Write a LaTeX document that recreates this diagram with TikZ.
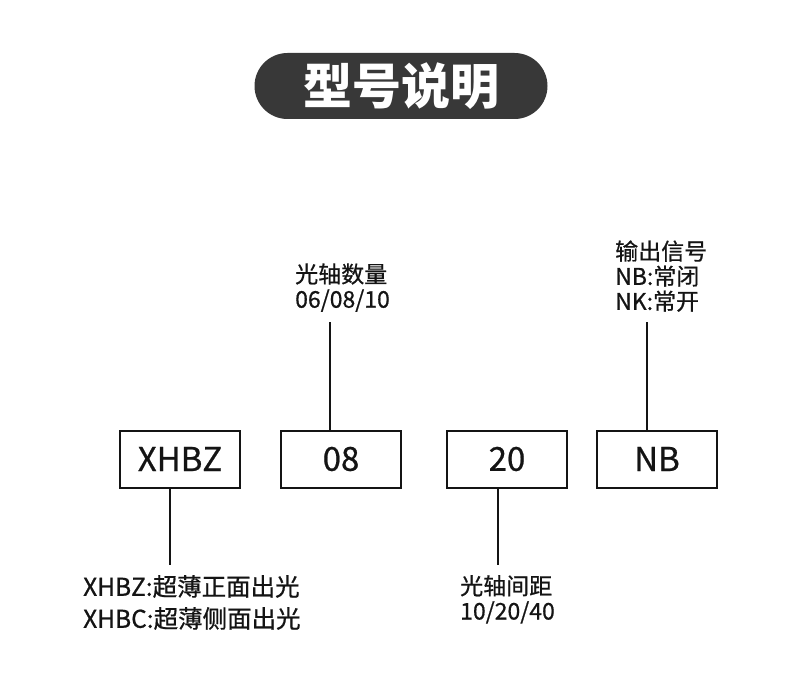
\documentclass[tikz,border=0pt]{standalone}
\usepackage{fontspec}
\setmainfont{Noto Sans CJK SC}
\newfontfamily\medfont[FakeBold=0.7]{Noto Sans CJK SC}
\usepackage{xcolor}
\usepackage{tikz}
\usetikzlibrary{positioning}
\definecolor{PillGray}{RGB}{56,56,56}
\definecolor{InkBlack}{RGB}{20,20,20}

\begin{document}
\begin{tikzpicture}[x=1pt,y=1pt,
        pill/.style={fill=PillGray,rounded corners=33pt,minimum width=293pt,minimum height=66pt,
                     text=white,font=\fontsize{49pt}{52pt}\selectfont\bfseries,inner sep=0pt},
        codebox/.style={draw=InkBlack,line width=2pt,minimum width=120pt,minimum height=57pt,
                        inner sep=0pt,text=InkBlack,font=\medfont\fontsize{33pt}{36pt}\selectfont},
        lbl/.style={inner xsep=0pt,inner ysep=10pt,align=left,text=InkBlack,
                    font=\medfont\fontsize{23pt}{25pt}\selectfont},
        lnk/.style={draw=InkBlack,line width=2pt}
      ]
        \useasboundingbox (0,0) rectangle (800,-682);
        \node[pill] (head) at (401,-86) {型号说明};
        \node[codebox] (type) at (180,-459) {XHBZ};
        \node[codebox] (qty) at (341,-459) {08};
        \node[codebox] (pitch) at (507,-459) {20};
        \node[codebox] (sig) at (657,-459) {NB};
        \node[lbl,anchor=south west] (lblqty) at (295,-322) {光轴数量\\06/08/10};
        \node[lbl,anchor=south west] (lblsig) at (615,-322) {输出信号\\NB:常闭\\NK:常开};
        \node[lbl,anchor=north west] (lblpitch) at (460,-565) {光轴间距\\10/20/40};
        \node[lbl,anchor=north west,font=\medfont\fontsize{24.5pt}{32pt}\selectfont] (lbltype) at (83,-565)
             {XHBZ:超薄正面出光\\XHBC:超薄侧面出光};
        \draw[lnk] ([xshift=-10pt]type.south) -- ([xshift=-10pt]type.south |- lbltype.north);
        \draw[lnk] ([xshift=-11pt]qty.north) -- ([xshift=-11pt]qty.north |- lblqty.south);
        \draw[lnk] ([xshift=-9pt]pitch.south) -- ([xshift=-9pt]pitch.south |- lblpitch.north);
        \draw[lnk] ([xshift=-10pt]sig.north) -- ([xshift=-10pt]sig.north |- lblsig.south);
      \end{tikzpicture}
\end{document}
